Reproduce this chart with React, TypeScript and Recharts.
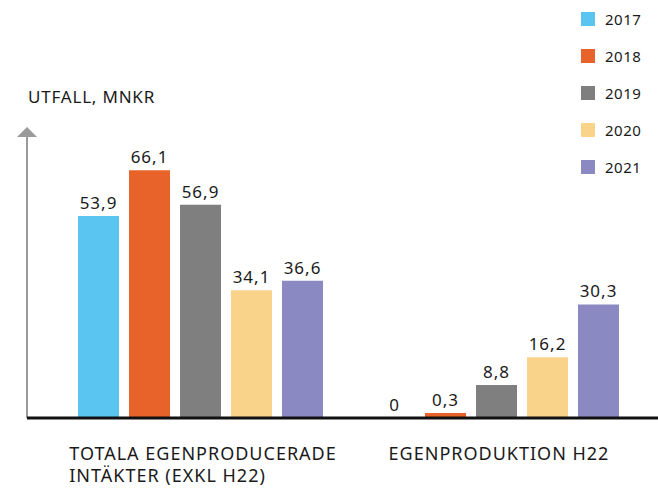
import React from "react";
import { BarChart, Bar, XAxis, YAxis, LabelList, Label } from "recharts";

const categories = ["TOTALA EGENPRODUCERADE|INTÄKTER (EXKL H22)", "EGENPRODUKTION H22"];
const years = ["2017", "2018", "2019", "2020", "2021"];
const v2017 = [53.9, 0];
const v2018 = [66.1, 0.3];
const v2019 = [56.9, 8.8];
const v2020 = [34.1, 16.2];
const v2021 = [36.6, 30.3];
const yTitle = "UTFALL, MNKR";

const seriesValues = [v2017, v2018, v2019, v2020, v2021];
const colors = ["#5BC5F2", "#E8632A", "#7F7F7F", "#FAD38A", "#8B89C2"];

const data = categories.map((c, i) => {
  const row: any = { name: c };
  years.forEach((y, s) => {
    row[y] = seriesValues[s][i];
  });
  return row;
});

const FONT = "'Noto Sans', sans-serif";
const TEXT = "#1a1a1a";

function measure(text: string, font: string, spacing: number): number {
  const c = document.createElement("canvas");
  const ctx = c.getContext("2d");
  if (!ctx) return text.length * 11;
  ctx.font = font;
  return ctx.measureText(text).width + spacing * text.length;
}

const CatTick = (props: any) => {
  const { x, y, payload } = props;
  const lines = String(payload.value).split("|");
  const w = measure(lines[0], `18px ${FONT}`, 1);
  const x0 = x - w / 2 + 3;
  return (
    <g>
      {lines.map((l, i) => (
        <text
          key={i}
          x={x0}
          y={y + 34 + i * 22}
          fill={TEXT}
          fontSize={18}
          letterSpacing={1}
          fontFamily={FONT}
          textAnchor="start"
        >
          {l}
        </text>
      ))}
    </g>
  );
};

const AxisDecor = (props: any) => {
  const vb = props.viewBox || {};
  const ax = vb.x + vb.width;
  const top = vb.y;
  return (
    <g>
      <polygon points={`${ax - 10},${top} ${ax + 10},${top} ${ax},${top - 10}`} fill="#9a9a9a" />
      <text x={ax + 1} y={top - 34} fill={TEXT} fontSize={17} letterSpacing={0.8} fontFamily={FONT}>
        {yTitle}
      </text>
    </g>
  );
};

const fmt = (v: any) => (Number(v) === 0 ? "0" : Number(v).toFixed(1).replace(".", ","));

export default function App() {
  return (
    <div style={{ position: "absolute", left: 0, top: 0, width: 658, height: 489, background: "#fff" }}>
      <BarChart
        width={658}
        height={489}
        data={data}
        margin={{ top: 137, right: 0, bottom: 0, left: 0 }}
        barCategoryGap={26}
        barGap={10}
      >
        <YAxis
          domain={[0, 75]}
          width={27}
          tick={false}
          tickLine={false}
          axisLine={{ stroke: "#9a9a9a", strokeWidth: 2 }}
        >
          <Label content={<AxisDecor />} />
        </YAxis>
        <XAxis
          dataKey="name"
          height={71}
          tickLine={false}
          axisLine={{ stroke: "#111", strokeWidth: 3 }}
          padding={{ left: 25, right: 14 }}
          tick={<CatTick />}
          interval={0}
        />
        {years.map((y, s) => (
          <Bar
            key={y}
            dataKey={y}
            fill={colors[s]}
            isAnimationActive={false}
            minPointSize={s === 1 ? 5 : s === 0 ? 0.01 : 0}
          >
            <LabelList
              dataKey={y}
              position="top"
              offset={7}
              formatter={fmt}
              fill={TEXT}
              fontSize={17}
              letterSpacing={1}
              fontFamily={FONT}
            />
          </Bar>
        ))}
      </BarChart>
      {years.map((y, s) => (
        <div
          key={y}
          style={{
            position: "absolute",
            left: 581,
            top: 12 + s * 37,
            display: "flex",
            alignItems: "center",
            height: 14,
          }}
        >
          <div style={{ width: 14, height: 14, background: colors[s] }} />
          <span style={{ marginLeft: 10, fontFamily: FONT, fontSize: 15, letterSpacing: 0.5, color: TEXT }}>{y}</span>
        </div>
      ))}
    </div>
  );
}
